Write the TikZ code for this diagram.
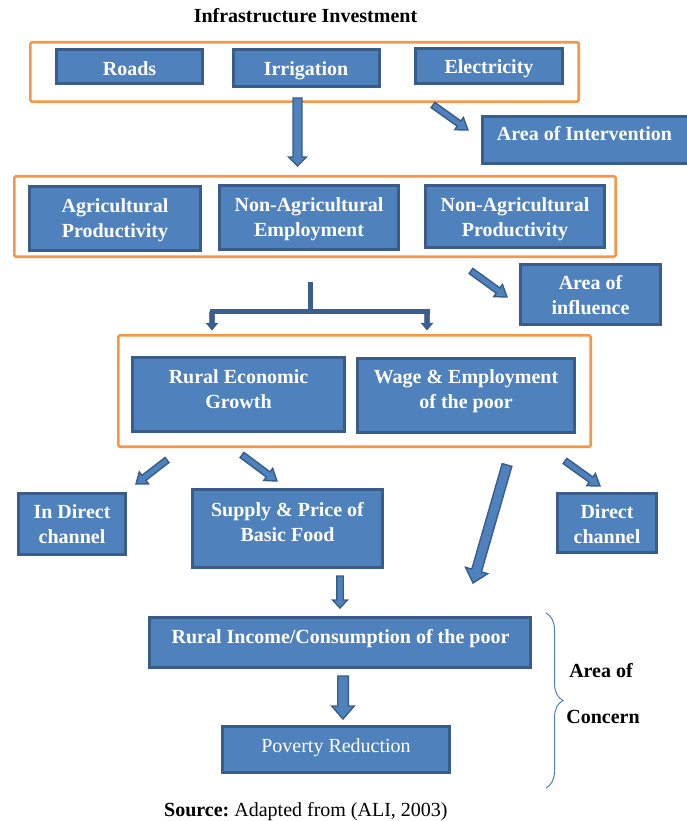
\documentclass[tikz,border=0pt]{standalone}
\usepackage{fontspec}
\setmainfont{Liberation Serif}
\usetikzlibrary{calc,fit,decorations.pathreplacing}
\definecolor{boxfill}{HTML}{4F81BD}
\definecolor{boxline}{HTML}{385D8A}
\definecolor{orng}{HTML}{F79646}
\definecolor{arrdark}{HTML}{3A5F8F}
\newcommand{\two}[2]{\begin{tabular}[b]{@{}c@{}}#1\\#2\end{tabular}}
% block arrow: #1 tail, #2 tip, #3 half shaft, #4 half head, #5 head length
\newcommand{\blockarr}[6][arrsty]{%
  \coordinate (bneck) at ($(#3)!#6!(#2)$);
  \path[#1] ($(#2)!#4!90:(#3)$) -- ($(bneck)!#4!90:(#3)$) -- ($(bneck)!#5!90:(#3)$) -- (#3)
    -- ($(bneck)!#5!-90:(#3)$) -- ($(bneck)!#4!-90:(#3)$) -- ($(#2)!#4!-90:(#3)$) -- cycle;}
\begin{document}
\begin{tikzpicture}[x=1pt,y=-1pt,
  bx/.style={draw=boxline, fill=boxfill, line width=2.6pt, inner sep=-1.3pt},
  grp/.style={draw=orng, line width=2.6pt, rounded corners=1.5pt, inner sep=-1.3pt},
  lbl/.style={text=white, font=\fontsize{20}{25}\selectfont\bfseries, inner sep=0pt, anchor=base},
  plain/.style={text=white, font=\fontsize{20}{25}\selectfont, inner sep=0pt, anchor=base},
  blk/.style={text=black, font=\fontsize{20}{24}\selectfont\bfseries, inner sep=0pt, anchor=base},
  arrsty/.style={fill=boxfill, draw=boxline, line width=1.4pt, line join=miter},
  forksty/.style={fill=arrdark, draw=arrdark, line width=0.5pt}]
\useasboundingbox (0,0) rectangle (686,821);

% title
\node[blk] (title) at (305.5,23) {Infrastructure Investment};

% groups
\node[grp, fit={(29,41) (580,103)}] (g1) {};
\node[grp, fit={(13,175) (617,258)}] (g2) {};
\node[grp, fit={(117,334) (592,448)}] (g3) {};

% boxes
\node[bx, fit={(55,48) (204,85)}] (roads) {};
\node[bx, fit={(232,48) (381,88)}] (irrig) {};
\node[bx, fit={(414,47) (564,85)}] (elec) {};
\node[bx, fit={(481,115) (690,165)}] (interv) {};
\node[bx, fit={(28,185) (202,252)}] (agri) {};
\node[bx, fit={(218,184) (400,251)}] (nae) {};
\node[bx, fit={(424,184) (606,249)}] (nap) {};
\node[bx, fit={(519,263) (662,326)}] (infl) {};
\node[bx, fit={(131,356) (346,433)}] (reg) {};
\node[bx, fit={(356,357) (576,434)}] (wage) {};
\node[bx, fit={(17,492) (127,556)}] (indir) {};
\node[bx, fit={(191,488) (384,569)}] (supply) {};
\node[bx, fit={(556,492) (658,554)}] (dir) {};
\node[bx, fit={(148,616) (532,669)}] (income) {};
\node[bx, fit={(221,725) (451,774)}] (pov) {};

% labels
\node[lbl] (t-roads) at (129.5,76) {Roads};
\node[lbl] (t-irrig) at (306,76) {Irrigation};
\node[lbl] (t-elec) at (489,74) {Electricity};
\node[lbl] (t-interv) at (584.5,141) {Area of Intervention};
\node[lbl] (t-agri) at (115,237.7) {\two{Agricultural}{Productivity}};
\node[lbl] (t-nae) at (309,236.7) {\two{Non-Agricultural}{Employment}};
\node[lbl] (t-nap) at (515,236.2) {\two{Non-Agricultural}{Productivity}};
\node[lbl] (t-infl) at (590.5,314) {\two{Area of}{influence}};
\node[lbl] (t-reg) at (238.5,408) {\two{Rural Economic}{Growth}};
\node[lbl] (t-wage) at (466,408.5) {\two{Wage \& Employment}{of the poor}};
\node[lbl] (t-indir) at (72,543) {\two{In Direct}{channel}};
\node[lbl] (t-supply) at (287.5,541) {\two{Supply \& Price of}{Basic Food}};
\node[lbl] (t-dir) at (607,543) {\two{Direct}{channel}};
\node[lbl] (t-income) at (340.5,643) {Rural Income/Consumption of the poor};
\node[plain] (t-pov) at (336,752.5) {Poverty Reduction};

% arrow end points
\coordinate (a1s) at (297.5,98);  \coordinate (a1e) at (297.5,166);
\coordinate (a2s) at (433,105);   \coordinate (a2e) at (468,130);
\coordinate (a3s) at (471,271);   \coordinate (a3e) at (507,297);
\coordinate (a4s) at (167,460);   \coordinate (a4e) at (136,484);
\coordinate (a5s) at (242,455);   \coordinate (a5e) at (277,481);
\coordinate (a6s) at (507,465);   \coordinate (a6e) at (473,583);
\coordinate (a7s) at (565,461);   \coordinate (a7e) at (600,486);
\coordinate (a8s) at (340,576);   \coordinate (a8e) at (340,608);
\coordinate (a9s) at (343,676);   \coordinate (a9e) at (343,719);

\blockarr{a1s}{a1e}{4.5pt}{9pt}{9pt}
\blockarr{a2s}{a2e}{3.2pt}{7.5pt}{11pt}
\blockarr{a3s}{a3e}{3.2pt}{7.5pt}{11pt}
\blockarr{a4s}{a4e}{3.2pt}{7.5pt}{10pt}
\blockarr{a5s}{a5e}{3.2pt}{7.5pt}{11pt}
\blockarr{a6s}{a6e}{5pt}{11.5pt}{13pt}
\blockarr{a7s}{a7e}{3.2pt}{7.5pt}{11pt}
\blockarr{a8s}{a8e}{3.2pt}{7.5pt}{8pt}
\blockarr{a9s}{a9e}{5.3pt}{11.3pt}{13pt}

% fork
\coordinate (fk0) at (310,282);
\coordinate (fkm) at (310,311.5);
\coordinate (fkl) at (212,311.5);
\coordinate (fkr) at (427,311.5);
\coordinate (fkle) at (212,330);
\coordinate (fkre) at (427,330);
\draw[arrdark, line width=5pt] (fk0) -- (fkm);
\draw[arrdark, line width=5pt] ([xshift=-2.5pt]fkl) -- ([xshift=2.5pt]fkr);
\blockarr[forksty]{fkl}{fkle}{2.5pt}{6pt}{7pt}
\blockarr[forksty]{fkr}{fkre}{2.5pt}{6pt}{7pt}

% brace
\coordinate (brt) at (546,613);
\coordinate (brb) at (546,788);
\draw[decorate, decoration={brace, amplitude=17pt}, draw=boxfill, line width=1pt] (brt) -- (brb);
\node[blk] (t-area) at (601,677) {Area of};
\node[blk] (t-concern) at (603,723) {Concern};

% source
\node[anchor=base west, inner sep=0pt, font=\fontsize{20}{24}\selectfont] (src) at (164,816.5) {\textbf{Source:}\ Adapted from (ALI, 2003)};
\end{tikzpicture}
\end{document}
